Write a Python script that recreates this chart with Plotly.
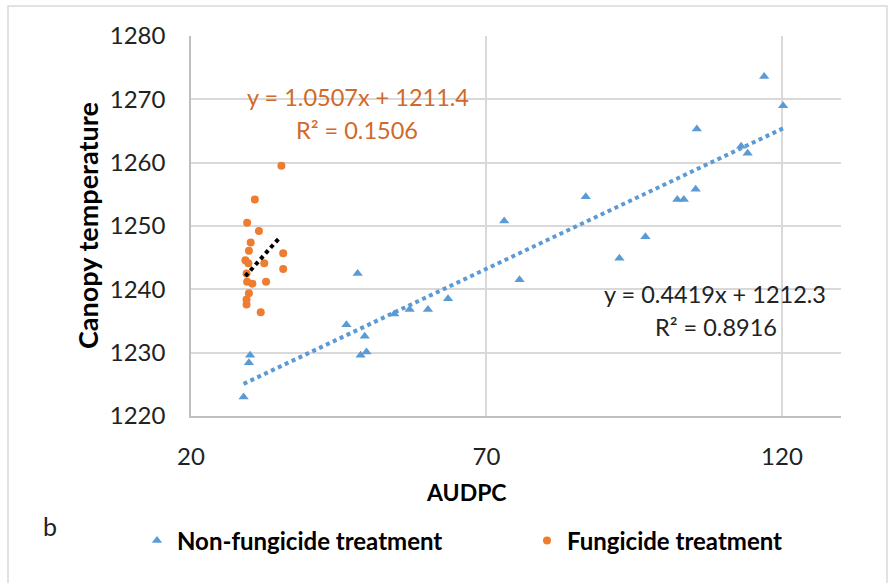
import plotly.graph_objects as go

# ---- data ----
nonfung_x = [28.9, 29.8, 30.0, 46.3, 48.2, 48.7, 49.4, 49.7, 54.4, 57.0, 60.1, 63.5,
             73.0, 75.6, 86.8, 92.5, 96.9, 102.3, 103.4, 105.4, 105.6, 113.1, 114.2,
             117.0, 120.2]
nonfung_y = [1223.0, 1228.4, 1229.6, 1234.4, 1242.5, 1229.6, 1232.6, 1230.1, 1236.1,
             1236.8, 1236.8, 1238.5, 1250.8, 1241.5, 1254.6, 1244.9, 1248.3, 1254.2,
             1254.2, 1255.8, 1265.3, 1262.6, 1261.5, 1273.6, 1269.0]

fung_x = [35.3, 30.8, 29.5, 31.5, 30.1, 29.8, 29.2, 29.7, 35.6, 35.6, 32.4, 29.4,
          29.5, 30.4, 32.7, 29.8, 29.4, 29.4, 31.8]
fung_y = [1259.5, 1254.2, 1250.5, 1249.2, 1247.4, 1246.1, 1244.6, 1244.1, 1245.7,
          1243.2, 1244.1, 1242.5, 1241.2, 1240.9, 1241.2, 1239.4, 1238.4, 1237.6,
          1236.4]

# trendline coefficients (slope, intercept) as printed on the chart
nonfung_fit = (0.4419, 1212.3)
fung_fit = (1.0507, 1211.4)

x_ticks = [20, 70, 120]
y_ticks = [1220, 1230, 1240, 1250, 1260, 1270, 1280]

BLUE = "#5B9BD5"
ORANGE = "#ED7D31"
ORANGE_TXT = "#D0692A"
FONT = "Lato"

W, H = 895, 583
L, R, T, B = 191, 841, 36, 416  # plot area in px


def px(x):
    return (x - L) / (R - L)


def py(y):
    return (B - y) / (B - T)


def line_pts(xs, fit):
    x0, x1 = min(xs), max(xs)
    return [x0, x1], [fit[0] * x0 + fit[1], fit[0] * x1 + fit[1]]


fig = go.Figure()

fig.add_trace(go.Scatter(
    x=nonfung_x, y=nonfung_y, mode="markers", name="Non-fungicide treatment",
    legend="legend",
    marker=dict(symbol="triangle-up", size=9, color=BLUE, line=dict(width=0)),
))
fig.add_trace(go.Scatter(
    x=fung_x, y=fung_y, mode="markers", name="Fungicide treatment",
    legend="legend2",
    marker=dict(symbol="circle", size=8, color=ORANGE, line=dict(width=0)),
))

lx, ly = line_pts(nonfung_x, nonfung_fit)
fig.add_trace(go.Scatter(x=lx, y=ly, mode="lines", showlegend=False, hoverinfo="skip",
                         line=dict(color=BLUE, width=4, dash="4px,3.6px")))
lx, ly = line_pts(fung_x, fung_fit)
fig.add_trace(go.Scatter(x=[lx[0], 34.9], y=[ly[0], fung_fit[0] * 34.9 + fung_fit[1]],
                         mode="lines", showlegend=False, hoverinfo="skip",
                         line=dict(color="black", width=4, dash="4px,3.6px")))

annots = [
    dict(x=px(358), y=py(97), text="y = 1.0507x + 1211.4", font=dict(color=ORANGE_TXT, size=23.5)),
    dict(x=px(357), y=py(130), text="R² = 0.1506", font=dict(color=ORANGE_TXT, size=23.5)),
    dict(x=px(715), y=py(294), text="y = 0.4419x + 1212.3", font=dict(color="#222222", size=23.5)),
    dict(x=px(716), y=py(327), text="R² = 0.8916", font=dict(color="#222222", size=23.5)),
    dict(x=px(50), y=py(526), text="b", font=dict(color="#222222", size=25)),
    dict(x=px(87), y=py(226), text="<b>Canopy temperature</b>", textangle=-90,
         font=dict(color="black", size=27)),
    dict(x=px(466), y=py(492), text="<b>AUDPC</b>", font=dict(color="black", size=23)),
]
for a in annots:
    a.update(xref="paper", yref="paper", showarrow=False, xanchor="center", yanchor="middle")
    a["font"]["family"] = FONT
fig.update_layout(annotations=annots)

fig.add_shape(type="rect", xref="paper", yref="paper",
              x0=px(8), x1=px(887), y0=py(600), y1=py(6),
              line=dict(color="#D9D9D9", width=1.5), layer="below")

legend_common = dict(orientation="h", xref="container", yref="container",
                     y=(H - 541) / H, xanchor="left", yanchor="middle",
                     font=dict(family=FONT, size=24, color="black", weight="bold"),
                     itemwidth=30, bgcolor="rgba(0,0,0,0)")

fig.update_layout(
    width=W, height=H,
    margin=dict(l=L, r=W - R, t=T, b=H - B),
    paper_bgcolor="white", plot_bgcolor="white",
    font=dict(family=FONT, size=24, color="#333333"),
    showlegend=True,
    legend=dict(x=137 / W, **legend_common),
    legend2=dict(x=527 / W, **legend_common),
    xaxis=dict(range=[20, 130], tickvals=x_ticks, showgrid=True, gridcolor="#D9D9D9",
               gridwidth=1.5, showline=True, linecolor="#BFBFBF", linewidth=1.5,
               zeroline=False, ticks="", ticklabelstandoff=18,
               tickfont=dict(family=FONT, size=24, color="#222222")),
    yaxis=dict(range=[1220, 1280], tickvals=y_ticks, showgrid=True, gridcolor="#D9D9D9",
               gridwidth=1.5, showline=True, linecolor="#BFBFBF", linewidth=1.5,
               zeroline=False, ticks="", ticklabelstandoff=19,
               tickfont=dict(family=FONT, size=24, color="#222222")),
)

fig.write_html("out.html")
